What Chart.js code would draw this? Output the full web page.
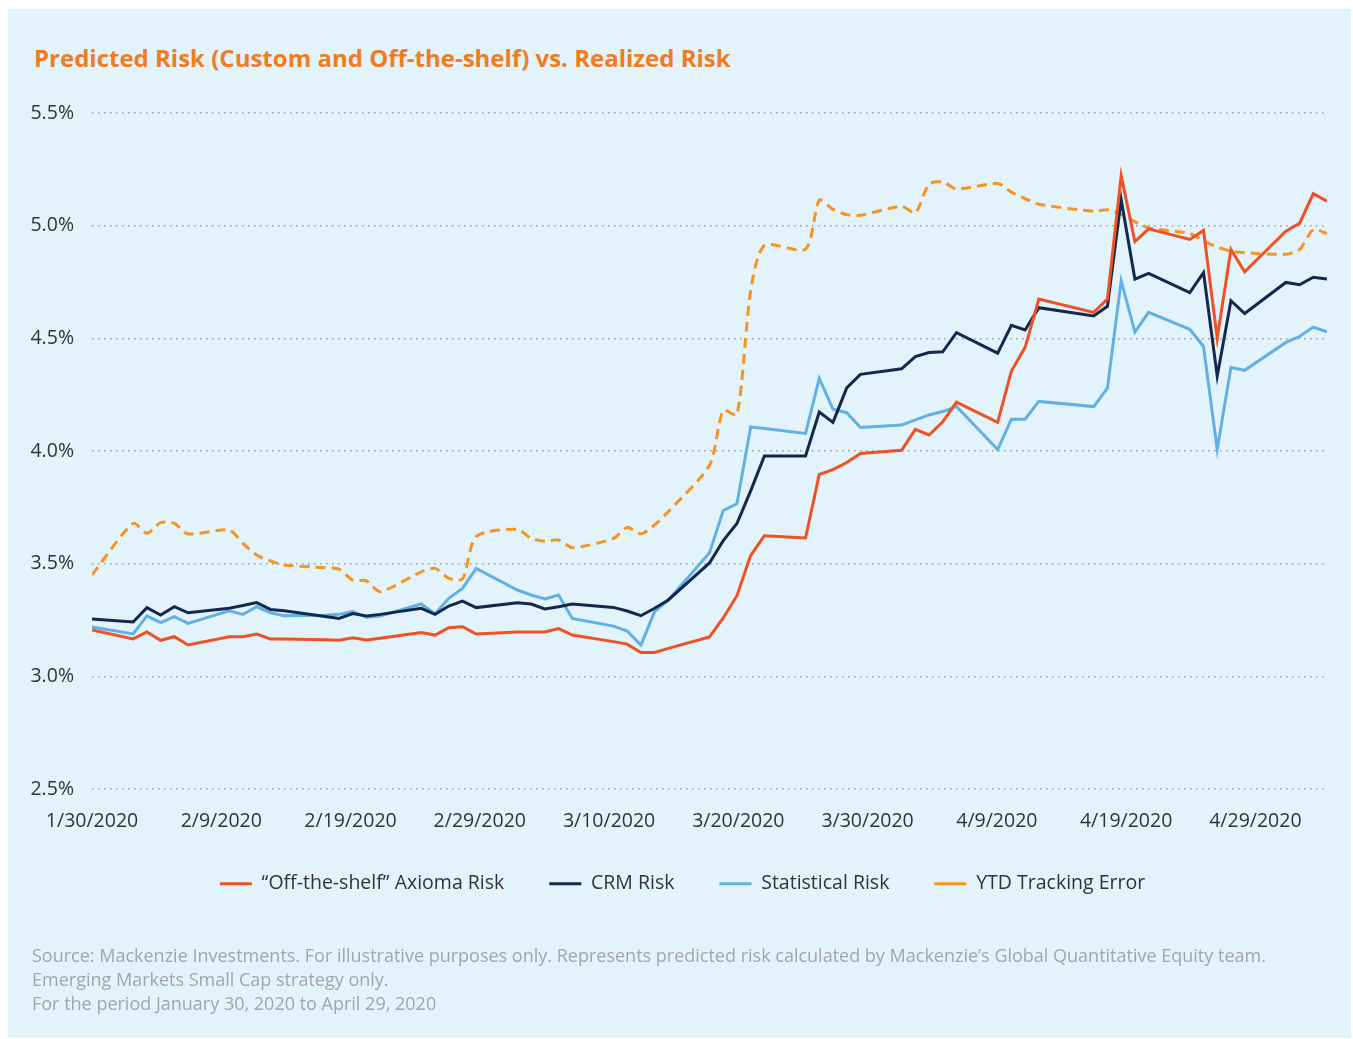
<!DOCTYPE html>
<html>
<head>
<meta charset="utf-8">
<script src="https://cdn.jsdelivr.net/npm/chart.js@4.4.1/dist/chart.umd.min.js"></script>
<style>
  html, body { margin: 0; padding: 0; background: #fff; }
  body { width: 1353px; height: 1039px; position: relative; overflow: hidden; font-family: "Open Sans", sans-serif; }
  #panel { position: absolute; left: 8px; top: 9px; right: 2px; bottom: 1px; background: #E2F3FC; }
  #title { position: absolute; left: 34px; top: 42px; font-size: 24px; line-height: 32px; font-weight: 700; color: #F07C22; white-space: nowrap; }
  #chart-wrap { position: absolute; left: 0; top: 0; width: 1353px; height: 1039px; }
  #note { position: absolute; left: 32px; top: 943px; font-size: 18px; line-height: 24px; color: #A3A5A8; white-space: nowrap; }
</style>
</head>
<body>
<div id="panel"></div>
<div id="title">Predicted Risk (Custom and Off-the-shelf) vs. Realized Risk</div>
<div id="chart-wrap"><canvas id="risk-chart"></canvas></div>
<div id="note">
  Source: Mackenzie Investments. For illustrative purposes only. Represents predicted risk calculated by Mackenzie’s Global Quantitative Equity team.<br>
  Emerging Markets Small Cap strategy only.<br>
  For the period January 30, 2020 to April 29, 2020
</div>
<script>
// Observation dates (values in %)
const dates = [
  "1/30/2020",
  "2/2/2020", "2/3/2020", "2/4/2020", "2/5/2020", "2/6/2020",
  "2/9/2020", "2/10/2020", "2/11/2020", "2/12/2020", "2/13/2020",
  "2/16/2020", "2/17/2020", "2/18/2020", "2/19/2020", "2/20/2020",
  "2/23/2020", "2/24/2020", "2/25/2020", "2/26/2020", "2/27/2020",
  "3/1/2020", "3/2/2020", "3/3/2020", "3/4/2020", "3/5/2020",
  "3/8/2020", "3/9/2020", "3/10/2020", "3/11/2020", "3/12/2020",
  "3/15/2020", "3/16/2020", "3/17/2020", "3/18/2020", "3/19/2020",
  "3/22/2020", "3/23/2020", "3/24/2020", "3/25/2020", "3/26/2020",
  "3/29/2020", "3/30/2020", "3/31/2020", "4/1/2020", "4/2/2020",
  "4/5/2020", "4/6/2020", "4/7/2020", "4/8/2020",
  "4/12/2020", "4/13/2020", "4/14/2020", "4/15/2020", "4/16/2020",
  "4/19/2020", "4/20/2020", "4/21/2020", "4/22/2020", "4/23/2020",
  "4/26/2020", "4/27/2020", "4/28/2020", "4/29/2020",
];

const axiomaRisk = [
  3.206,
  3.166, 3.197, 3.160, 3.176, 3.139,
  3.176, 3.176, 3.188, 3.166, 3.166,
  3.162, 3.160, 3.171, 3.161, 3.169,
  3.194, 3.183, 3.216, 3.220, 3.188,
  3.197, 3.197, 3.197, 3.212, 3.183,
  3.154, 3.143, 3.106, 3.106, 3.124,
  3.175, 3.259, 3.358, 3.536, 3.624,
  3.614, 3.896, 3.917, 3.949, 3.989,
  4.003, 4.096, 4.071, 4.130, 4.217,
  4.127, 4.355, 4.460, 4.674,
  4.615, 4.674, 5.222, 4.929, 4.986,
  4.939, 4.979, 4.500, 4.894, 4.795,
  4.975, 5.010, 5.142, 5.109,
];

const crmRisk = [
  3.254,
  3.241, 3.305, 3.272, 3.309, 3.282,
  3.302, 3.314, 3.327, 3.297, 3.291,
  3.266, 3.257, 3.279, 3.268, 3.275,
  3.302, 3.275, 3.312, 3.334, 3.305,
  3.327, 3.321, 3.299, 3.309, 3.321,
  3.306, 3.290, 3.269, 3.302, 3.339,
  3.503, 3.602, 3.678, 3.823, 3.978,
  3.978, 4.173, 4.127, 4.280, 4.340,
  4.365, 4.419, 4.437, 4.440, 4.525,
  4.434, 4.558, 4.537, 4.636,
  4.599, 4.642, 5.116, 4.763, 4.788,
  4.703, 4.792, 4.332, 4.667, 4.610,
  4.748, 4.738, 4.771, 4.763,
];

const statisticalRisk = [
  3.219,
  3.188, 3.268, 3.238, 3.265, 3.235,
  3.291, 3.275, 3.309, 3.282, 3.269,
  3.271, 3.275, 3.287, 3.262, 3.268,
  3.321, 3.277, 3.346, 3.390, 3.479,
  3.383, 3.361, 3.343, 3.361, 3.257,
  3.223, 3.201, 3.139, 3.287, 3.339,
  3.548, 3.736, 3.766, 4.107, 4.100,
  4.078, 4.322, 4.185, 4.170, 4.104,
  4.115, 4.138, 4.160, 4.175, 4.198,
  4.006, 4.141, 4.141, 4.220,
  4.197, 4.279, 4.756, 4.528, 4.615,
  4.540, 4.464, 4.007, 4.370, 4.358,
  4.482, 4.508, 4.550, 4.529,
];

const ytdTrackingError = [
  3.450,
  3.679, 3.635, 3.682, 3.679, 3.632,
  3.649, 3.590, 3.538, 3.512, 3.494,
  3.482, 3.476, 3.427, 3.424, 3.376,
  3.464, 3.479, 3.435, 3.432, 3.621,
  3.652, 3.612, 3.600, 3.605, 3.571,
  3.612, 3.661, 3.632, 3.672, 3.731,
  3.937, 4.180, 4.161, 4.710, 4.912,
  4.896, 5.113, 5.072, 5.049, 5.046,
  5.086, 5.057, 5.184, 5.194, 5.163,
  5.187, 5.149, 5.120, 5.095,
  5.064, 5.071, 5.050, 5.018, 4.990,
  4.965, 4.933, 4.905, 4.887, 4.880,
  4.873, 4.894, 4.982, 4.965,
];

const xTickLabels = [
  "1/30/2020", "2/9/2020", "2/19/2020", "2/29/2020", "3/10/2020",
  "3/20/2020", "3/30/2020", "4/9/2020", "4/19/2020", "4/29/2020",
];

const TICK_STEP = 9.42; // spacing of the date labels, in days
const DAY0 = Date.UTC(2020, 0, 30);

// day number counted from 1/30/2020
function dayOffset(str) {
  const [m, d, y] = str.split("/").map(Number);
  return (Date.UTC(y, m - 1, d) - DAY0) / 86400000;
}

const xDays = dates.map(dayOffset);
const toPoints = (values) => values.map((v, i) => ({ x: xDays[i], y: v }));

// nudge the legend row to the right so it sits where the original one does
const legendShift = {
  id: "legendShift",
  afterLayout(chart) {
    chart.legend.left += 19;
    chart.legend.right += 19;
  },
};

Chart.defaults.font.family = '"Open Sans", sans-serif';
Chart.defaults.color = "#333333";

const ctx = document.getElementById("risk-chart").getContext("2d");
const riskChart = new Chart(ctx, {
  type: "line",
  data: {
    datasets: [
      {
        label: "“Off-the-shelf” Axioma Risk",
        data: toPoints(axiomaRisk),
        borderColor: "#EF5124",
        backgroundColor: "#EF5124",
        borderWidth: 3,
      },
      {
        label: "CRM Risk",
        data: toPoints(crmRisk),
        borderColor: "#13294B",
        backgroundColor: "#13294B",
        borderWidth: 3,
      },
      {
        label: "Statistical Risk",
        data: toPoints(statisticalRisk),
        borderColor: "#63B0E3",
        backgroundColor: "#63B0E3",
        borderWidth: 3,
      },
      {
        label: "YTD Tracking Error",
        data: toPoints(ytdTrackingError),
        borderColor: "#F7941D",
        backgroundColor: "#F7941D",
        borderWidth: 3,
        borderDash: [10, 6],
        tension: 0.25,
      },
    ],
  },
  options: {
    responsive: true,
    maintainAspectRatio: false,
    animation: false,
    devicePixelRatio: 1,
    elements: {
      point: { radius: 0 },
      line: { borderJoinStyle: "miter" },
    },
    layout: {
      padding: { top: 113, left: 0, right: 26, bottom: 135.5 },
    },
    plugins: {
      legend: {
        position: "bottom",
        labels: {
          usePointStyle: true,
          pointStyle: "line",
          pointStyleWidth: 32,
          padding: 45,
          color: "#333333",
          font: { size: 19.5 },
        },
      },
      tooltip: { enabled: false },
    },
    scales: {
      x: {
        type: "linear",
        min: 0,
        max: 90,
        grid: { display: false, drawTicks: false },
        border: { display: false },
        afterBuildTicks: (scale) => {
          scale.ticks = xTickLabels.map((_, i) => ({ value: i * TICK_STEP }));
        },
        ticks: {
          autoSkip: false,
          maxRotation: 0,
          padding: 21,
          color: "#333333",
          font: { size: 19.5 },
          callback: (value, index) => xTickLabels[index],
        },
        afterFit: (scale) => { scale.height = 40; },
      },
      y: {
        min: 2.5,
        max: 5.5,
        grid: { color: "#9B9B9B", lineWidth: 1.5, drawTicks: false },
        border: { display: false, dash: [1.5, 4.5] },
        ticks: {
          stepSize: 0.5,
          padding: 18,
          color: "#333333",
          font: { size: 19.5 },
          callback: (value) => value.toFixed(1) + "%",
        },
        afterFit: (scale) => { scale.width = 92; },
      },
    },
  },
  plugins: [legendShift],
});
</script>
</body>
</html>
